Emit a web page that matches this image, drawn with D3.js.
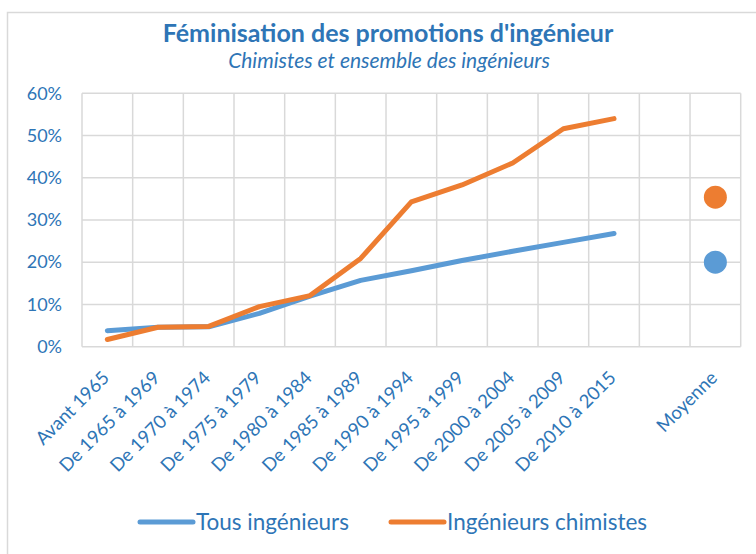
<!DOCTYPE html>
<html>
<head>
<meta charset="utf-8">
<script src="https://cdn.jsdelivr.net/npm/d3@7"></script>
<style>
  body { margin: 0; background: #fff; }
  text { font-family: Lato, "Open Sans", sans-serif; }
</style>
</head>
<body>
<div id="chart"></div>
<script>
// categories, with an empty slot before the average
var categories = ["Avant 1965", "De 1965 à 1969", "De 1970 à 1974", "De 1975 à 1979",
  "De 1980 à 1984", "De 1985 à 1989", "De 1990 à 1994", "De 1995 à 1999",
  "De 2000 à 2004", "De 2005 à 2009", "De 2010 à 2015", "", "Moyenne"]

// share of women (%) per promotion
var tousIngenieurs = [3.8, 4.6, 4.7, 7.9, 12.0, 15.7, 18.0, 20.4, 22.6, 24.7, 26.8]
var ingenieursChimistes = [1.7, 4.6, 4.8, 9.5, 12.1, 20.9, 34.3, 38.3, 43.5, 51.6, 54.0]
var moyenneTous = 20.0
var moyenneChimistes = 35.4

var yTicks = [0, 10, 20, 30, 40, 50, 60]
var seriesNames = ["Tous ingénieurs", "Ingénieurs chimistes"]

var width = 756
var height = 554
var blue = "#5b9bd5"
var orange = "#ed7d31"
var textColor = "#2e75b6"
var gridColor = "#d9d9d9"

var plot = {left: 82, right: 740.7, top: 93.3, bottom: 346.7}

var svg = d3.select("#chart").append("svg")
  .attr("width", width).attr("height", height)

// chart frame
svg.append("rect")
  .attr("x", 7.5).attr("y", 12.5)
  .attr("width", 900).attr("height", 700)
  .attr("fill", "none").attr("stroke", gridColor).attr("stroke-width", 1.5)

var x = d3.scaleBand()
  .domain(categories)
  .range([plot.left, plot.right])

var y = d3.scaleLinear()
  .domain([0, 60])
  .range([plot.bottom, plot.top])

// horizontal grid
svg.append("g")
  .selectAll("line")
  .data(yTicks)
  .enter().append("line")
  .attr("x1", plot.left).attr("x2", plot.right)
  .attr("y1", function(d) { return y(d) })
  .attr("y2", function(d) { return y(d) })
  .attr("stroke", gridColor).attr("stroke-width", 1.5)

// vertical grid at category boundaries
svg.append("g")
  .selectAll("line")
  .data(d3.range(categories.length + 1))
  .enter().append("line")
  .attr("x1", function(i) { return plot.left + i * x.step() })
  .attr("x2", function(i) { return plot.left + i * x.step() })
  .attr("y1", plot.top).attr("y2", plot.bottom)
  .attr("stroke", gridColor).attr("stroke-width", 1.5)

// y axis labels
var yAxis = svg.append("g")
  .attr("transform", "translate(" + (plot.left - 20) + ",0)")
  .call(d3.axisLeft(y).tickValues(yTicks).tickSize(0)
    .tickFormat(function(d) { return d + "%" }))
yAxis.select(".domain").remove()
yAxis.selectAll("text")
  .attr("x", 0)
  .attr("fill", textColor)
  .style("font-size", "18px")
  .style("font-family", "Lato, sans-serif")

// x labels, rotated
svg.append("g")
  .selectAll("text")
  .data(categories)
  .enter().append("text")
  .attr("transform", function(d) {
    return "translate(" + (x(d) + x.bandwidth() / 2 + 3) + ",379) rotate(-45)"
  })
  .attr("text-anchor", "end")
  .attr("fill", textColor)
  .style("font-size", "18.5px")
  .text(function(d) { return d })

function cx(i) {
  return x(categories[i]) + x.bandwidth() / 2
}

var line = d3.line()
  .x(function(d, i) { return cx(i) })
  .y(function(d) { return y(d) })

svg.append("path")
  .datum(tousIngenieurs)
  .attr("d", line)
  .attr("fill", "none").attr("stroke", blue)
  .attr("stroke-width", 5).attr("stroke-linecap", "round").attr("stroke-linejoin", "round")

svg.append("path")
  .datum(ingenieursChimistes)
  .attr("d", line)
  .attr("fill", "none").attr("stroke", orange)
  .attr("stroke-width", 5).attr("stroke-linecap", "round").attr("stroke-linejoin", "round")

// averages
var mx = x("Moyenne") + x.bandwidth() / 2
svg.append("circle").attr("cx", mx).attr("cy", y(moyenneChimistes)).attr("r", 11.5).attr("fill", orange)
svg.append("circle").attr("cx", mx).attr("cy", y(moyenneTous)).attr("r", 11.5).attr("fill", blue)

// titles
svg.append("text")
  .attr("x", 388).attr("y", 42)
  .attr("text-anchor", "middle")
  .attr("fill", textColor)
  .style("font-size", "25px").style("font-weight", "bold")
  .text("Féminisation des promotions d'ingénieur")

svg.append("text")
  .attr("x", 389).attr("y", 68)
  .attr("text-anchor", "middle")
  .attr("fill", textColor)
  .style("font-size", "21px").style("font-style", "italic")
  .text("Chimistes et ensemble des ingénieurs")

// legend
var legend = [
  {name: seriesNames[0], color: blue, x: 140},
  {name: seriesNames[1], color: orange, x: 391}
]
var lg = svg.append("g").selectAll("g")
  .data(legend)
  .enter().append("g")
  .attr("transform", function(d) { return "translate(" + d.x + ",522)" })
lg.append("line")
  .attr("x1", 0).attr("x2", 53)
  .attr("stroke", function(d) { return d.color })
  .attr("stroke-width", 5).attr("stroke-linecap", "round")
lg.append("text")
  .attr("x", 56).attr("dy", "0.35em")
  .attr("fill", textColor)
  .style("font-size", "22.5px")
  .text(function(d) { return d.name })
</script>
</body>
</html>
